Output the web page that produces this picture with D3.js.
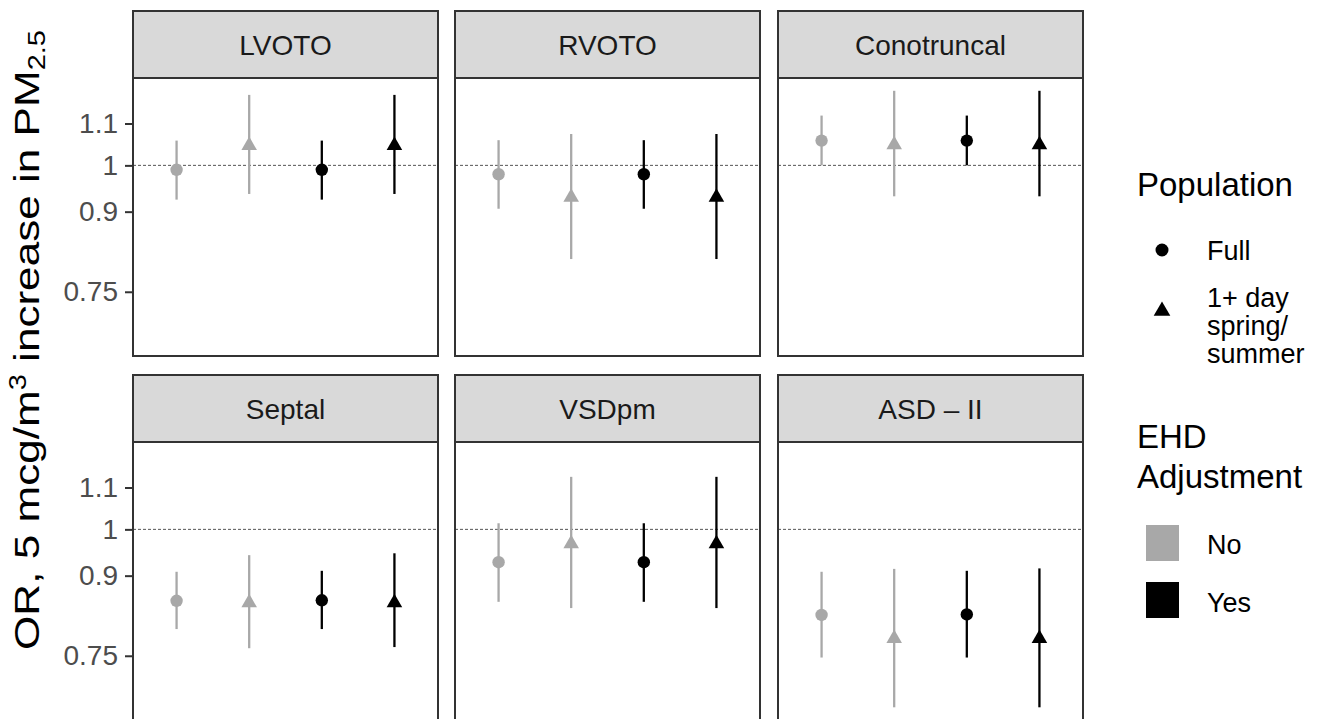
<!DOCTYPE html>
<html>
<head>
<meta charset="utf-8">
<style>
  body { margin: 0; background: #fff; }
  svg { font-family: "Liberation Sans", Arial, Helvetica, sans-serif; }
</style>
</head>
<body>
<svg width="1326" height="719"></svg>
<script src="https://d3js.org/d3.v7.min.js"></script>
<script>

// panels (facet order)
var outcomes = ["LVOTO", "RVOTO", "Conotruncal", "Septal", "VSDpm", "ASD \u2013 II"];

// EHD adjustment = No
var orFullNo     = [0.990, 0.980, 1.058, 0.850, 0.928, 0.823],
    loFullNo     = [0.925, 0.906, 1.000, 0.797, 0.848, 0.747],
    hiFullNo     = [1.058, 1.059, 1.120, 0.908, 1.014, 0.908],
    orSpringNo   = [1.046, 0.930, 1.048, 0.846, 0.968, 0.780],
    loSpringNo   = [0.937, 0.808, 0.932, 0.763, 0.836, 0.667],
    hiSpringNo   = [1.174, 1.074, 1.185, 0.943, 1.127, 0.914];

// EHD adjustment = Yes
var orFullYes    = [0.990, 0.980, 1.058, 0.851, 0.928, 0.824],
    loFullYes    = [0.925, 0.906, 1.000, 0.797, 0.848, 0.747],
    hiFullYes    = [1.058, 1.059, 1.120, 0.910, 1.014, 0.910],
    orSpringYes  = [1.046, 0.930, 1.048, 0.846, 0.968, 0.780],
    loSpringYes  = [0.937, 0.808, 0.932, 0.765, 0.836, 0.667],
    hiSpringYes  = [1.174, 1.074, 1.185, 0.947, 1.127, 0.915];

var yTicks = [0.75, 0.9, 1, 1.1],
    yTickLabels = ["0.75", "0.9", "1", "1.1"];

var ehdLevels = ["No", "Yes"],
    popLevels = ["Full", "1+ day spring/summer"];

// build long table
var rows = [];
outcomes.forEach(function(o, i) {
  rows.push({panel: i, key: "No-Full",    ehd: "No",  pop: "Full",   or: orFullNo[i],    lo: loFullNo[i],    hi: hiFullNo[i]});
  rows.push({panel: i, key: "No-Spring",  ehd: "No",  pop: "Spring", or: orSpringNo[i],  lo: loSpringNo[i],  hi: hiSpringNo[i]});
  rows.push({panel: i, key: "Yes-Full",   ehd: "Yes", pop: "Full",   or: orFullYes[i],   lo: loFullYes[i],   hi: hiFullYes[i]});
  rows.push({panel: i, key: "Yes-Spring", ehd: "Yes", pop: "Spring", or: orSpringYes[i], lo: loSpringYes[i], hi: hiSpringYes[i]});
});

var colLeft = [133, 455, 778],
    rowTop = [11, 375],
    panelW = 305,
    stripH = 67,
    plotH = 278;

var color = d3.scaleOrdinal().domain(ehdLevels).range(["#a8a8a8", "#000000"]);

var x = d3.scalePoint()
    .domain(["No-Full", "No-Spring", "Yes-Full", "Yes-Spring"])
    .range([0, panelW])
    .padding(0.6);

var y = d3.scaleLog()
    .domain([0.648, 1.22])
    .range([plotH, 0]);

var circle = d3.symbol().type(d3.symbolCircle).size(Math.PI * 6.2 * 6.2),
    triangle = d3.symbol().type(d3.symbolTriangle).size(105);

var svg = d3.select("svg");

outcomes.forEach(function(name, i) {
  var col = i % 3, row = Math.floor(i / 3);
  var g = svg.append("g")
      .attr("transform", "translate(" + colLeft[col] + "," + rowTop[row] + ")");

  // strip
  g.append("rect")
      .attr("width", panelW).attr("height", stripH)
      .attr("fill", "#d9d9d9")
      .attr("stroke", "#333").attr("stroke-width", 2);
  g.append("text")
      .attr("x", panelW / 2).attr("y", stripH / 2)
      .attr("dy", "0.36em")
      .attr("text-anchor", "middle")
      .attr("font-size", 28)
      .attr("fill", "#1a1a1a")
      .text(name);

  var p = g.append("g").attr("transform", "translate(0," + stripH + ")");

  p.append("rect")
      .attr("width", panelW).attr("height", plotH)
      .attr("fill", "#fff");

  // reference line at OR = 1
  p.append("line")
      .attr("x1", 0).attr("x2", panelW)
      .attr("y1", y(1)).attr("y2", y(1))
      .attr("stroke", "#555").attr("stroke-width", 1)
      .attr("stroke-dasharray", "3,2");

  var d = rows.filter(function(r) { return r.panel === i; });

  p.selectAll(".ci")
      .data(d)
    .enter().append("line")
      .attr("x1", function(r) { return x(r.key); })
      .attr("x2", function(r) { return x(r.key); })
      .attr("y1", function(r) { return y(r.lo); })
      .attr("y2", function(r) { return y(r.hi); })
      .attr("stroke", function(r) { return color(r.ehd); })
      .attr("stroke-width", 2.3);

  p.selectAll(".pt")
      .data(d)
    .enter().append("path")
      .attr("transform", function(r) { return "translate(" + x(r.key) + "," + y(r.or) + ")"; })
      .attr("d", function(r) { return r.pop === "Full" ? circle() : triangle(); })
      .attr("fill", function(r) { return color(r.ehd); });

  p.append("rect")
      .attr("width", panelW).attr("height", plotH)
      .attr("fill", "none")
      .attr("stroke", "#333").attr("stroke-width", 2);

  if (col === 0) {
    var axis = d3.axisLeft(y)
        .tickValues(yTicks)
        .tickFormat(function(v, k) { return yTickLabels[k]; })
        .tickSize(8)
        .tickPadding(7);
    var ax = p.append("g").call(axis);
    ax.select(".domain").remove();
    ax.selectAll(".tick line").attr("stroke", "#333").attr("stroke-width", 2);
    ax.selectAll(".tick text")
        .attr("font-size", 28)
        .attr("font-family", "Liberation Sans, Arial, sans-serif")
        .attr("fill", "#4d4d4d");
  }
});

// y axis title (glyphs are drawn tall in the original, so stretch along the text)
var title = svg.append("text")
    .attr("transform", "translate(39,340) rotate(-90) scale(1.26,1)")
    .attr("text-anchor", "middle")
    .attr("font-size", 35)
    .attr("fill", "#000");
title.append("tspan").text("OR, 5 mcg/m");
title.append("tspan").attr("font-size", 23).attr("dy", -13).text("3");
title.append("tspan").attr("dy", 13).text(" increase in PM");
title.append("tspan").attr("font-size", 23).attr("dy", 6).text("2.5");

// legends
var lg = svg.append("g").attr("font-size", 27).attr("fill", "#000");

lg.append("text").attr("x", 1137).attr("y", 196).attr("font-size", 33).text("Population");
lg.append("path").attr("transform", "translate(1162,250)")
    .attr("d", d3.symbol().type(d3.symbolCircle).size(Math.PI * 6.5 * 6.5)()).attr("fill", "#000");
lg.append("text").attr("x", 1207).attr("y", 260).text("Full");
lg.append("path").attr("transform", "translate(1162,311)")
    .attr("d", d3.symbol().type(d3.symbolTriangle).size(120)()).attr("fill", "#000");
["1+ day", "spring/", "summer"].forEach(function(t, k) {
  lg.append("text").attr("x", 1207).attr("y", 307 + k * 28).text(t);
});

lg.append("text").attr("x", 1137).attr("y", 448).attr("font-size", 33).text("EHD");
lg.append("text").attr("x", 1137).attr("y", 488).attr("font-size", 33).text("Adjustment");
ehdLevels.forEach(function(lv, k) {
  lg.append("rect")
      .attr("x", 1146).attr("y", 525 + k * 57)
      .attr("width", 33).attr("height", 36)
      .attr("fill", color(lv));
  lg.append("text").attr("x", 1207).attr("y", 554 + k * 58).text(lv);
});

</script>
</body>
</html>
